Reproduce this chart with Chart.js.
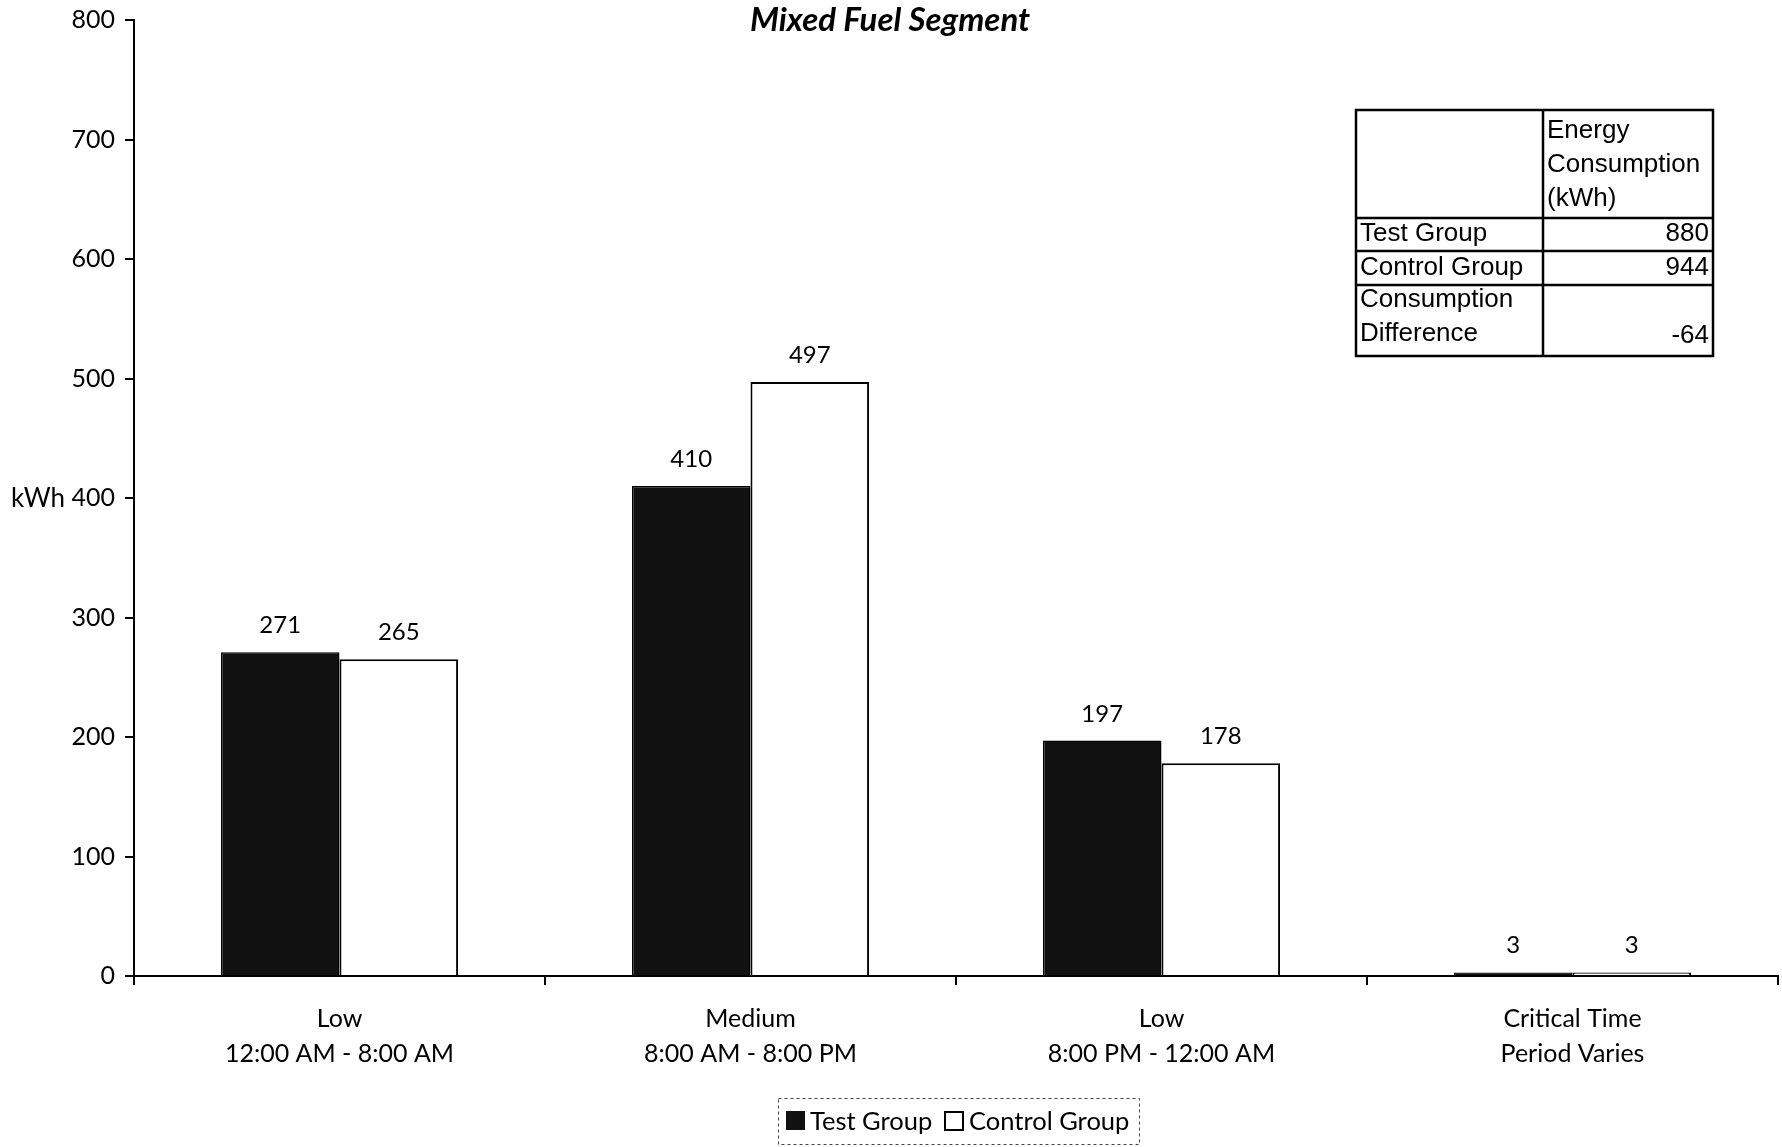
<!DOCTYPE html>
<html>
<head>
<meta charset="utf-8">
<script src="https://cdn.jsdelivr.net/npm/chart.js@4.4.1/dist/chart.umd.min.js"></script>
<style>
  html, body { margin: 0; padding: 0; background: #fff; }
  #wrap { width: 1782px; height: 1147px; }
</style>
</head>
<body>
<div id="wrap"><canvas id="c" width="1782" height="1147"></canvas></div>
<script>
const chartTitle = "Mixed Fuel Segment";
const yAxisTitle = "kWh";
const categories = [
  ["Low", "12:00 AM - 8:00 AM"],
  ["Medium", "8:00 AM - 8:00 PM"],
  ["Low", "8:00 PM - 12:00 AM"],
  ["Critical Time", "Period Varies"]
];
const seriesNames = ["Test Group", "Control Group"];
const testGroup = [271, 410, 197, 3];
const controlGroup = [265, 497, 178, 3];
const yTicks = [0, 100, 200, 300, 400, 500, 600, 700, 800];
const tableHeader = ["Energy", "Consumption", "(kWh)"];
const tableRowLabels = [["Test Group"], ["Control Group"], ["Consumption", "Difference"]];
const tableValues = [880, 944, -64];

const LABEL_FONT = "Lato, 'Open Sans', sans-serif";
const TABLE_FONT = "'Liberation Sans', Arial, sans-serif";

const extras = {
  id: 'extras',
  afterDatasetsDraw(chart) {
    const ctx = chart.ctx;
    ctx.save();
    // value labels
    ctx.fillStyle = '#000';
    ctx.font = '24px ' + LABEL_FONT;
    ctx.textAlign = 'center';
    ctx.textBaseline = 'alphabetic';
    chart.data.datasets.forEach((ds, di) => {
      const meta = chart.getDatasetMeta(di);
      meta.data.forEach((bar, i) => {
        ctx.fillText(String(ds.data[i]), bar.x, bar.y - 19);
      });
    });
    // title
    ctx.font = 'italic bold 33px ' + LABEL_FONT;
    ctx.fillText(chartTitle, 890, 31);
    // y axis title
    const ys = chart.scales.y;
    ctx.font = '26px ' + LABEL_FONT;
    ctx.textAlign = 'left';
    ctx.textBaseline = 'middle';
    ctx.fillText(yAxisTitle, 11, ys.getPixelForValue(400) + 1);

    // table
    const tx0 = 1356, tx1 = 1713, tcol = 1543;
    const rowsY = [110, 218, 251, 285, 356];
    ctx.strokeStyle = '#000';
    ctx.lineWidth = 2.5;
    ctx.strokeRect(tx0, rowsY[0], tx1 - tx0, rowsY[4] - rowsY[0]);
    ctx.beginPath();
    ctx.moveTo(tcol, rowsY[0]); ctx.lineTo(tcol, rowsY[4]);
    for (let r = 1; r < 4; r++) { ctx.moveTo(tx0, rowsY[r]); ctx.lineTo(tx1, rowsY[r]); }
    ctx.stroke();
    ctx.font = '26px ' + TABLE_FONT;
    ctx.textBaseline = 'middle';
    ctx.textAlign = 'left';
    tableHeader.forEach((t, i) => ctx.fillText(t, tcol + 4, 131 + i * 34));
    const labelY = [[234], [268], [300, 334]];
    tableRowLabels.forEach((lines, r) => {
      lines.forEach((t, k) => ctx.fillText(t, tx0 + 4, labelY[r][k]));
    });
    ctx.textAlign = 'right';
    const valY = [234, 268, 336];
    tableValues.forEach((v, r) => ctx.fillText(String(v), tx1 - 4, valY[r]));

    // legend
    const lx0 = 778, ly0 = 1098, lx1 = 1139, ly1 = 1144;
    ctx.lineWidth = 1;
    ctx.setLineDash([3, 3]);
    ctx.strokeStyle = '#444';
    ctx.strokeRect(lx0 + 0.5, ly0 + 0.5, lx1 - lx0, ly1 - ly0);
    ctx.setLineDash([]);
    const ds = chart.data.datasets;
    ctx.fillStyle = ds[0].backgroundColor;
    ctx.fillRect(786, 1111, 19, 19);
    ctx.fillStyle = '#fff';
    ctx.fillRect(945, 1112, 18, 18);
    ctx.strokeStyle = '#000';
    ctx.lineWidth = 2;
    ctx.strokeRect(945, 1112, 18, 18);
    ctx.fillStyle = '#000';
    ctx.font = '25.5px ' + LABEL_FONT;
    ctx.textAlign = 'left';
    ctx.textBaseline = 'middle';
    ctx.fillText(seriesNames[0], 810, 1122);
    ctx.fillText(seriesNames[1], 969, 1122);
    ctx.restore();
  }
};

new Chart(document.getElementById('c'), {
  type: 'bar',
  data: {
    labels: categories,
    datasets: [
      { label: seriesNames[0], data: testGroup, backgroundColor: '#111111', borderColor: '#000', borderWidth: 1.5 },
      { label: seriesNames[1], data: controlGroup, backgroundColor: '#ffffff', borderColor: '#000', borderWidth: 2 }
    ]
  },
  options: {
    responsive: false,
    devicePixelRatio: 1,
    animation: false,
    layout: { padding: { top: 17, right: 4, left: 0, bottom: 0 } },
    datasets: { bar: { categoryPercentage: 0.577, barPercentage: 1.0 } },
    plugins: { legend: { display: false }, title: { display: false }, tooltip: { enabled: false } },
    scales: {
      x: {
        offset: true,
        grid: { display: true, drawOnChartArea: false, offset: true, tickLength: 9, color: '#000', lineWidth: 2 },
        border: { display: true, color: '#000', width: 2 },
        ticks: { color: '#000', font: { family: LABEL_FONT, size: 25, lineHeight: 1.4 }, padding: 16, maxRotation: 0, autoSkip: false },
        afterFit(scale) { scale.height = 171; }
      },
      y: {
        min: 0, max: 800,
        afterBuildTicks(scale) { scale.ticks = yTicks.map(v => ({ value: v })); },
        grid: { display: true, drawOnChartArea: false, tickLength: 9, color: '#000', lineWidth: 2 },
        border: { display: true, color: '#000', width: 2 },
        ticks: { color: '#000', font: { family: LABEL_FONT, size: 25, lineHeight: 0.8 }, padding: 10 },
        afterFit(scale) { scale.width = 134; }
      }
    }
  },
  plugins: [extras]
});
</script>
</body>
</html>
